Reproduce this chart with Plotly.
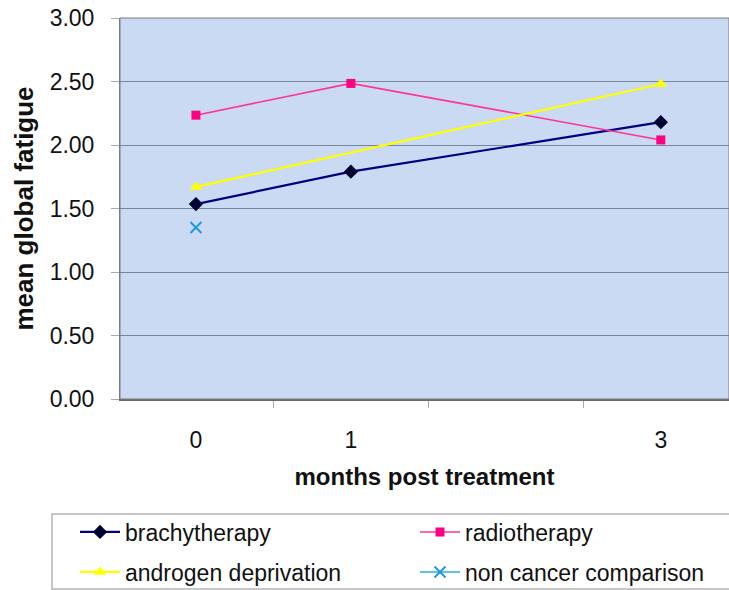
import plotly.graph_objects as go

months = [0, 1, 3]
tick_labels = ["0", "1", "3"]
brachytherapy = [1.535, 1.79, 2.18]
radiotherapy = [2.235, 2.485, 2.04]
androgen_months = [0, 3]
androgen_deprivation = [1.67, 2.48]
noncancer_months = [0]
non_cancer_comparison = [1.35]

FONT = "Liberation Sans, Arial, sans-serif"
FS = 23

fig = go.Figure()
fig.add_trace(go.Scatter(x=months, y=brachytherapy, name="brachytherapy", mode="lines+markers",
                         line=dict(color="#000080", width=2.2),
                         marker=dict(symbol="diamond", size=11, color="#000033"),
                         legend="legend"))
fig.add_trace(go.Scatter(x=months, y=radiotherapy, name="radiotherapy", mode="lines+markers",
                         line=dict(color="#ff3399", width=1.6),
                         marker=dict(symbol="square", size=9, color="#ff0080"),
                         legend="legend2"))
fig.add_trace(go.Scatter(x=androgen_months, y=androgen_deprivation, name="androgen deprivation",
                         mode="lines+markers",
                         line=dict(color="#ffff00", width=2.2),
                         marker=dict(symbol="triangle-up", size=11, color="#ffff00"),
                         legend="legend3"))
fig.add_trace(go.Scatter(x=noncancer_months, y=non_cancer_comparison, name="non cancer comparison",
                         mode="lines+markers",
                         line=dict(color="#33aadd", width=1.5),
                         marker=dict(symbol="x-thin", size=11, color="#2299dd",
                                     line=dict(width=2, color="#2299dd")),
                         legend="legend4"))

def px_x(x):
    return (x - 120) / 609.0

def px_y(y):
    return 1 - (y - 18) / 381.0

def leg(xpx, ypx):
    return dict(x=px_x(xpx), xanchor="left", y=px_y(ypx), yanchor="middle",
                itemwidth=40, bgcolor="rgba(0,0,0,0)", borderwidth=0,
                font=dict(family=FONT, size=FS, color="#111111"))

fig.update_layout(
    width=729, height=590,
    margin=dict(l=120, r=0, t=18, b=191, autoexpand=False),
    paper_bgcolor="white",
    plot_bgcolor="#c9daf2",
    font=dict(family=FONT, size=FS, color="#111111"),
    showlegend=True,
    legend=leg(75, 532),
    legend2=leg(415, 532),
    legend3=leg(75, 572),
    legend4=leg(415, 572),
)
fig.update_xaxes(
    range=[-0.49, 3.44],
    tickvals=months, ticktext=tick_labels,
    ticks="", showgrid=False, zeroline=False,
    showline=True, linecolor="#6a6a6a", linewidth=1.5,
    minor=dict(tickvals=[-0.5, 0.5, 1.5, 2.5], ticks="outside", ticklen=7, tickcolor="#aaaaaa", showgrid=False),
    tickfont=dict(size=FS),
    ticklabelstandoff=20,
    title=dict(text="<b>months post treatment</b>", font=dict(size=24), standoff=16),
)
fig.update_yaxes(
    range=[0, 3.0],
    tickvals=[0, 0.5, 1.0, 1.5, 2.0, 2.5, 3.0],
    ticktext=["0.00", "0.50", "1.00", "1.50", "2.00", "2.50", "3.00"],
    showgrid=True, gridcolor="#7a8599", gridwidth=1,
    zeroline=False,
    showline=True, linecolor="#7a7a7a", linewidth=1,
    ticks="outside", ticklen=8, tickcolor="#aaaaaa",
    tickfont=dict(size=FS),
    ticklabelstandoff=12,
    title=dict(text="<b>mean global fatigue</b>", font=dict(size=26), standoff=8),
)
fig.add_shape(type="rect", xref="paper", yref="paper", x0=0, y0=0, x1=1, y1=1,
              line=dict(color="#7a7a7a", width=1), fillcolor="rgba(0,0,0,0)")
fig.add_shape(type="rect", xref="paper", yref="paper",
              x0=px_x(52), y0=px_y(589), x1=px_x(760), y1=px_y(514),
              line=dict(color="#b5b5b5", width=1.5), fillcolor="white", layer="below")

fig.write_html("out.html")
